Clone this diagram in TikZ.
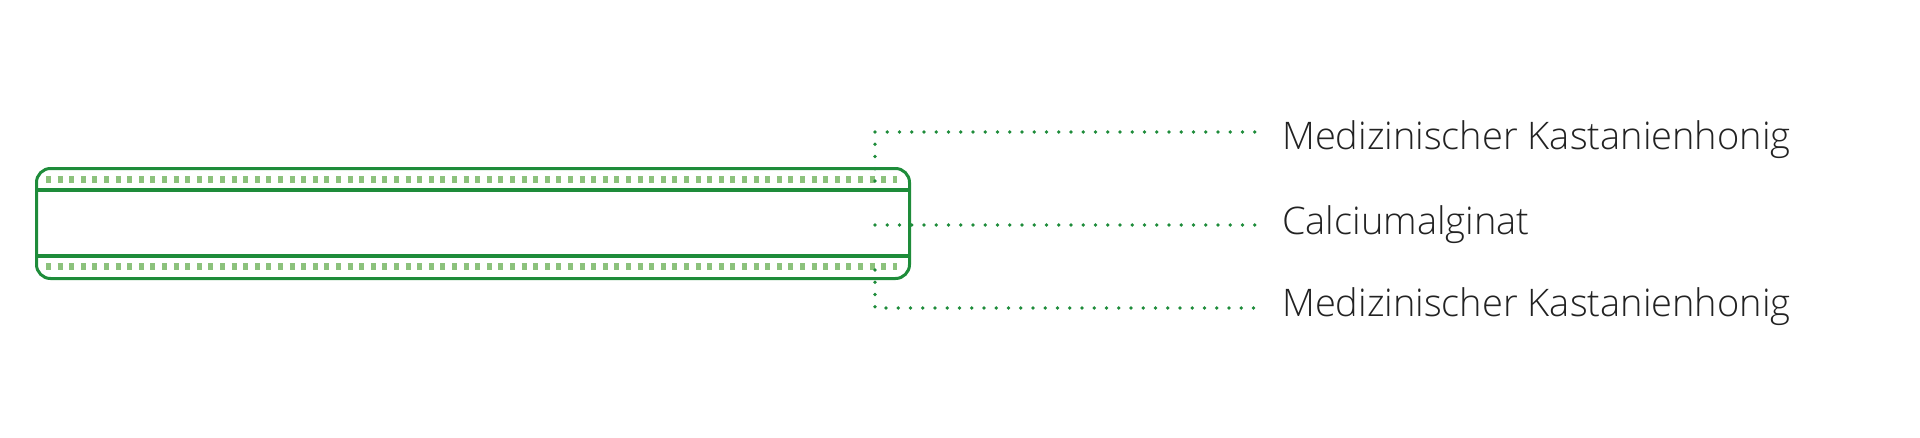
\documentclass[tikz,border=0pt]{standalone}
\usepackage{fontspec}
\setmainfont{Open Sans Light}
\definecolor{mygreen}{HTML}{1E8C3A}
\definecolor{lightgreen}{HTML}{8CC27C}
\definecolor{txt}{HTML}{222222}
\begin{document}
\begin{tikzpicture}[x=1pt,y=-1pt,
  outline/.style={draw=mygreen,line width=3pt},
  layerline/.style={draw=mygreen,line width=3.5pt},
  honey/.style={draw=lightgreen,line width=7pt,dash pattern=on 5pt off 6.6pt},
  leader/.style={draw=mygreen,line width=3.6pt,line cap=round,dash pattern=on 0pt off 12.25pt},
  label/.style={anchor=base west,inner sep=0pt,text=txt,font=\fontsize{38}{45}\selectfont}]
\useasboundingbox (0,0) rectangle (1920,437);
% dressing
\node[outline,rounded corners=14pt,minimum width=873pt,minimum height=110pt,inner sep=0pt,anchor=north west] (bar) at (35,167) {};
\draw[honey] (46,179) -- (897,179);
\draw[honey] (46,266) -- (897,266);
\draw[layerline] (bar.west |- 0,190) -- (bar.east |- 0,190);
\draw[layerline] (bar.west |- 0,256) -- (bar.east |- 0,256);
% labels
\node[label] (t1) at (1282,149) {Medizinischer Kastanienhonig};
\node[label] (t2) at (1282,234) {Calciumalginat};
\node[label] (t3) at (1282,316) {Medizinischer Kastanienhonig};
\coordinate (s1) at (875,181);
\coordinate (s2) at (875,225);
\coordinate (s3) at (875,270);
\coordinate (e1) at (1265,132);
\coordinate (e2) at (1265,225);
\coordinate (e3) at (1265,308);
\draw[leader] (s1) |- (e1);
\draw[leader] (s2) -- (e2);
\draw[leader] (s3) |- (e3);
\end{tikzpicture}
\end{document}
